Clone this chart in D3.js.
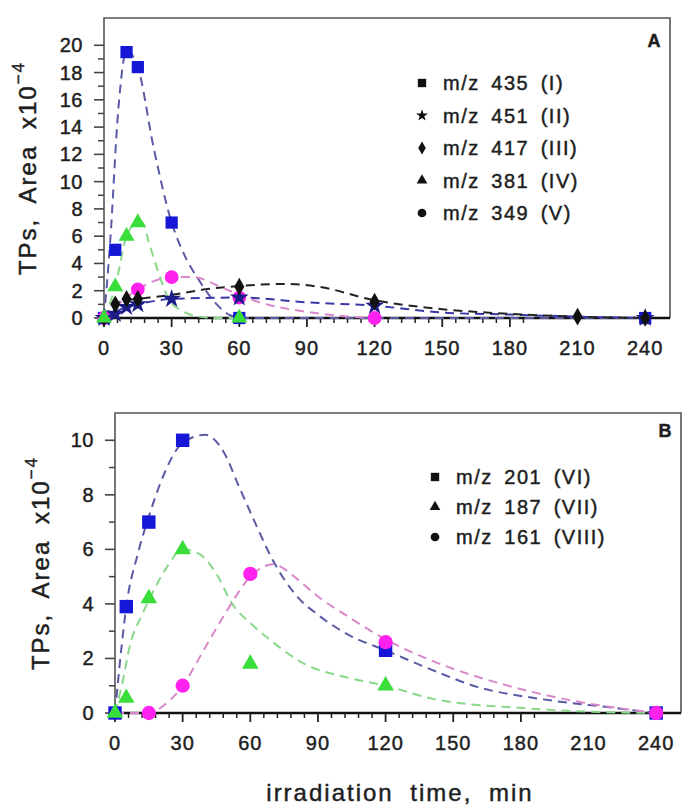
<!DOCTYPE html>
<html><head><meta charset="utf-8">
<script src="https://cdn.jsdelivr.net/npm/d3@7"></script>
<style>
body{margin:0;background:#fff}
text{font-family:"Liberation Sans",Arial,Helvetica,sans-serif;fill:#1e1e1e;stroke:#1e1e1e;stroke-width:0.45px}
</style>
</head><body>
<svg id="c" width="683" height="807"></svg>
<script>
// ---------- tick labels ----------
const timeTicks = [0, 30, 60, 90, 120, 150, 180, 210, 240];
const yTicksA = [0, 2, 4, 6, 8, 10, 12, 14, 16, 18, 20];
const yTicksB = [0, 2, 4, 6, 8, 10];

// ---------- Panel A : measured points ----------
const legendA = ["m/z 435 (I)", "m/z 451 (II)", "m/z 417 (III)", "m/z 381 (IV)", "m/z 349 (V)"];
const tI   = [0, 5, 10, 15, 30, 60, 240];
const vI   = [0, 5.0, 19.5, 18.4, 7.0, 0, 0];
const tII  = [0, 5, 10, 15, 30, 60, 120, 240];
const vII  = [0, 0.3, 0.8, 1.0, 1.4, 1.5, 0.9, 0];
const tIII = [0, 5, 10, 15, 60, 120, 210, 240];
const vIII = [0, 1.0, 1.4, 1.4, 2.3, 1.2, 0.1, 0];
const tIV  = [0, 5, 10, 15, 60];
const vIV  = [0, 2.3, 6.0, 7.0, 0];
const tV   = [0, 15, 30, 60, 120];
const vV   = [0, 2.1, 3.0, 1.5, 0];

// ---------- Panel A : fitted (dashed) curves ----------
const fitTI   = [0, 2.7, 6.3, 10, 15, 22, 30, 36, 42, 50, 56, 62, 120, 240];
const fitVI   = [0, 5.5, 15.2, 19.6, 18.4, 12.5, 7.0, 4.5, 2.8, 1.0, 0.2, 0, 0, 0];
const fitTII  = [0, 10, 15, 30, 60, 90, 120, 150, 180, 210, 240];
const fitVII  = [0, 0.8, 1.0, 1.4, 1.5, 1.15, 0.9, 0.4, 0.25, 0.1, 0];
const fitTIII = [0, 5, 10, 15, 30, 45, 60, 80, 95, 120, 150, 180, 210, 240];
const fitVIII = [0, 1.0, 1.3, 1.4, 1.7, 2.1, 2.35, 2.5, 2.3, 1.3, 0.65, 0.3, 0.1, 0];
const fitTIV  = [0, 5, 10, 15, 17, 20, 24, 29, 35, 42, 50, 60];
const fitVIV  = [0, 2.3, 6.0, 7.0, 7.0, 5.5, 3.4, 1.3, 0.5, 0.1, 0, 0];
const fitTV   = [0, 15, 22, 30, 40, 50, 60, 70, 90, 105, 120];
const fitVV   = [0, 2.1, 2.7, 3.0, 3.0, 2.4, 1.7, 1.1, 0.45, 0.15, 0];

// ---------- Panel B : measured points ----------
const legendB = ["m/z 201 (VI)", "m/z 187 (VII)", "m/z 161 (VIII)"];
const tVI    = [0, 5, 15, 30, 120, 240];
const vVI    = [0, 3.9, 7.0, 10.0, 2.3, 0];
const tVII   = [0, 5, 15, 30, 60, 120];
const vVII   = [0, 0.55, 4.2, 6.0, 1.8, 1.0];
const tVIII  = [15, 30, 60, 120, 240];
const vVIII  = [0, 1.0, 5.1, 2.6, 0];

// ---------- Panel B : fitted curves ----------
const fitTVI   = [0, 3, 5, 10, 15, 20, 30, 40, 48, 55, 62, 70, 81, 90, 104, 120, 140, 161, 190, 220, 240];
const fitVVI   = [0, 2.5, 3.9, 5.8, 7.2, 8.4, 9.9, 10.2, 9.6, 8.3, 7.0, 5.6, 4.25, 3.6, 2.85, 2.3, 1.6, 0.95, 0.5, 0.2, 0];
const fitTVII  = [0, 3, 7, 12, 16, 23, 30, 37, 45, 52, 60, 70, 84, 103, 120, 142, 181, 210, 240];
const fitVVII  = [0, 1.0, 2.6, 3.6, 4.3, 5.35, 6.0, 5.85, 5.1, 4.0, 3.3, 2.6, 1.8, 1.3, 1.0, 0.5, 0.18, 0.05, 0];
const fitTVIII = [0, 15, 22, 30, 40, 50, 60, 70, 81, 88, 104, 120, 141, 170, 200, 240];
const fitVVIII = [0, 0, 0.3, 1.0, 2.4, 3.8, 5.0, 5.45, 4.9, 4.4, 3.5, 2.7, 1.9, 1.1, 0.5, 0];

// ---------- drawing ----------
const svg = d3.select("#c");
const C = {blue:"#1616d6", navy:"#1d1d8a", black:"#111", green:"#3ade3a", mag:"#ff22ee",
           cBlue:"#5a5aa6", cNavy:"#3838a8", cBlack:"#222", cGreen:"#8ad88a", cMag:"#d888c8"};

function panel(o){
  const g = svg.append("g");
  const x = d3.scaleLinear().domain([0, 251]).range([o.left, o.left + 566]);
  const y = d3.scaleLinear().domain([0, o.ymax]).range([o.bottom, o.bottom - 300]);
  // frame
  g.append("path").attr("d", `M${x(0)},${y(0)}V${y(o.ymax)}H${x(251)}V${y(0)}`)
    .attr("fill","none").attr("stroke","#555").attr("stroke-width",1.6);
  // x axis line
  g.append("line").attr("x1",x(0)).attr("x2",x(251)).attr("y1",y(0)).attr("y2",y(0))
    .attr("stroke","#111").attr("stroke-width",2.4);
  // x ticks
  const xMinor = d3.range(0, 187, 6).filter(v => v % 30 !== 0);
  const xMajor = timeTicks.filter(v => v <= 180);
  g.selectAll(null).data(xMinor).enter().append("line")
    .attr("x1",d=>x(d)).attr("x2",d=>x(d)).attr("y1",y(0)).attr("y2",y(0)+5)
    .attr("stroke","#222").attr("stroke-width",1.5);
  g.selectAll(null).data(xMajor).enter().append("line")
    .attr("x1",d=>x(d)).attr("x2",d=>x(d)).attr("y1",y(0)).attr("y2",y(0)+9)
    .attr("stroke","#222").attr("stroke-width",1.8);
  g.selectAll(null).data(timeTicks).enter().append("text")
    .attr("x",d=>x(d)).attr("y",y(0)+30).attr("text-anchor","middle")
    .attr("dominant-baseline","central").attr("font-size",20).attr("letter-spacing",1)
    .text(d=>d);
  // y ticks
  const yMinor = d3.range(1, o.ymax, 2).filter(v=>v<=o.yTicks[o.yTicks.length-1]);
  g.selectAll(null).data(yMinor).enter().append("line")
    .attr("x1",x(0)-6).attr("x2",x(0)).attr("y1",d=>y(d)).attr("y2",d=>y(d))
    .attr("stroke","#444").attr("stroke-width",1.5);
  g.selectAll(null).data(o.yTicks).enter().append("line")
    .attr("x1",x(0)-10).attr("x2",x(0)).attr("y1",d=>y(d)).attr("y2",d=>y(d))
    .attr("stroke","#444").attr("stroke-width",1.6);
  g.selectAll(null).data(o.yTicks).enter().append("text")
    .attr("x",x(0)-21).attr("y",d=>y(d)).attr("text-anchor","end")
    .attr("dominant-baseline","central").attr("font-size",20).attr("letter-spacing",0.5)
    .text(d=>d);
  // y label
  const yl = g.append("text")
    .attr("transform",`translate(${o.ylx},${(y(0)+y(o.ymax))/2}) rotate(-90)`)
    .attr("text-anchor","middle").attr("dominant-baseline","central")
    .attr("font-size",24).attr("letter-spacing",2).attr("word-spacing",7);
  yl.append("tspan").text("TPs, Area x10");
  yl.append("tspan").attr("dy",-9).attr("font-size",17).text("\u22124");
  // panel letter
  g.append("text").attr("x",o.letterX).attr("y",o.letterY).attr("font-size",18)
    .attr("font-weight","bold").attr("text-anchor","middle").attr("dominant-baseline","central")
    .text(o.letter);
  // curves
  const line = d3.line().x(d=>x(d[0])).y(d=>y(d[1])).curve(d3.curveMonotoneX);
  o.curves.forEach(c=>{
    g.append("path").attr("d", line(d3.zip(c.t, c.v))).attr("fill","none")
      .attr("stroke",c.color).attr("stroke-width",2).attr("stroke-dasharray","9,6");
  });
  // markers
  o.series.forEach(s=>{
    const sym = d3.symbol().type(s.sym).size(s.size);
    g.selectAll(null).data(d3.zip(s.t, s.v)).enter().append("path")
      .attr("d", sym).attr("transform", d=>`translate(${x(d[0])},${y(d[1])})`)
      .attr("fill", s.color);
  });
  // legend
  o.legend.forEach((txt,i)=>{
    const ly = o.legY + i*o.legDy;
    g.append("path").attr("d", d3.symbol().type(o.legSyms[i]).size(o.legSizes[i]))
      .attr("transform",`translate(${o.legX},${ly})`).attr("fill","#111");
    g.append("text").attr("x",o.legX+21).attr("y",ly).attr("dominant-baseline","central")
      .attr("font-size",20).attr("letter-spacing",1.5).attr("word-spacing",4.5)
      .text(txt);
  });
}

panel({
  left:104, bottom:318, ymax:22, yTicks:yTicksA, ylx:27, letter:"A", letterX:654, letterY:41,
  curves:[
    {t:fitTI, v:fitVI, color:C.cBlue},
    {t:fitTII, v:fitVII, color:C.cNavy},
    {t:fitTIII, v:fitVIII, color:C.cBlack},
    {t:fitTIV, v:fitVIV, color:C.cGreen},
    {t:fitTV, v:fitVV, color:C.cMag}
  ],
  series:[
    {t:tI, v:vI, sym:d3.symbolSquare, size:150, color:C.blue},
    {t:tV, v:vV, sym:d3.symbolCircle, size:150, color:C.mag},
    {t:tII, v:vII, sym:d3.symbolStar, size:110, color:C.navy},
    {t:tIII, v:vIII, sym:d3.symbolDiamond, size:90, color:C.black},
    {t:tIV, v:vIV, sym:d3.symbolTriangle, size:110, color:C.green}
  ],
  legend:legendA, legX:422, legY:83, legDy:32.5,
  legSyms:[d3.symbolSquare,d3.symbolStar,d3.symbolDiamond,d3.symbolTriangle,d3.symbolCircle],
  legSizes:[70,45,50,50,60]
});

panel({
  left:115, bottom:713, ymax:11, yTicks:yTicksB, ylx:40, letter:"B", letterX:665, letterY:431,
  curves:[
    {t:fitTVI, v:fitVVI, color:C.cBlue},
    {t:fitTVII, v:fitVVII, color:C.cGreen},
    {t:fitTVIII, v:fitVVIII, color:C.cMag}
  ],
  series:[
    {t:tVI, v:vVI, sym:d3.symbolSquare, size:180, color:C.blue},
    {t:tVIII, v:vVIII, sym:d3.symbolCircle, size:160, color:C.mag},
    {t:tVII, v:vVII, sym:d3.symbolTriangle, size:120, color:C.green}
  ],
  legend:legendB, legX:435, legY:477, legDy:30,
  legSyms:[d3.symbolSquare,d3.symbolTriangle,d3.symbolCircle],
  legSizes:[70,50,60]
});

// x axis title
svg.append("text").attr("x",400).attr("y",792).attr("text-anchor","middle")
  .attr("dominant-baseline","central").attr("font-size",24).attr("letter-spacing",2)
  .attr("word-spacing",8).text("irradiation time, min");
</script>
</body></html>
